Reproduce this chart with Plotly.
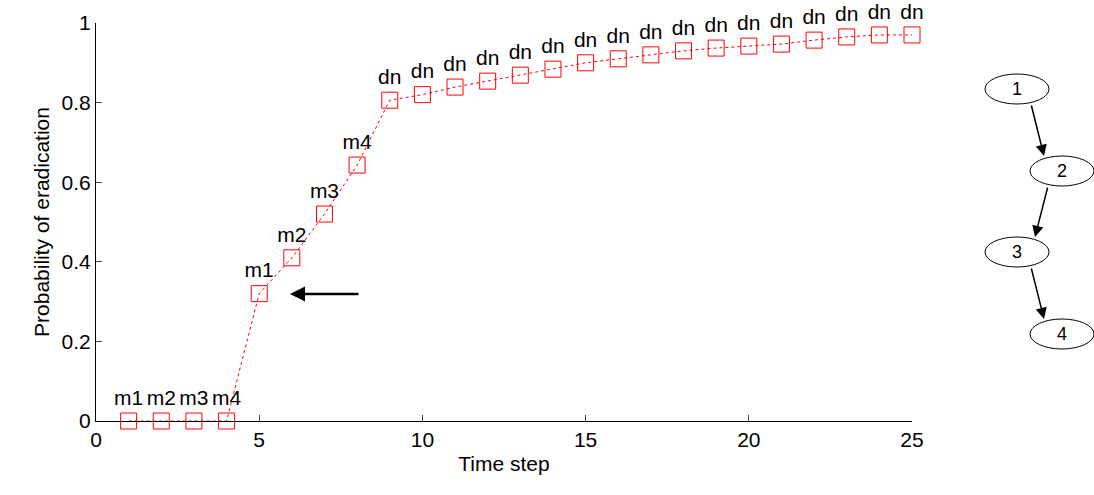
import plotly.graph_objects as go

x = list(range(1, 26))
y = [0, 0, 0, 0, 0.32, 0.41, 0.52, 0.643, 0.806, 0.82, 0.839, 0.854, 0.869, 0.884,
     0.9, 0.91, 0.92, 0.93, 0.937, 0.942, 0.947, 0.957, 0.965, 0.97, 0.97]
labels = ["m1", "m2", "m3", "m4", "m1", "m2", "m3", "m4"] + ["dn"] * 17
nodes = ["1", "2", "3", "4"]

W, H = 1094, 495
L, R, T, B = 96, 912, 23, 421
def px(xp): return (xp - L) / (R - L)
def py(yp): return (B - yp) / (B - T)

fig = go.Figure()
fig.add_trace(go.Scatter(x=x, y=y, mode="lines+markers+text", text=labels,
    textposition="top center", textfont=dict(size=21, color="black"),
    line=dict(color="red", width=1, dash="dot"),
    marker=dict(symbol="square-open", size=16, color="red", line=dict(width=1)),
    cliponaxis=False, showlegend=False))

shapes, ann = [], []
centers = [(1017, 89), (1062, 171), (1017, 252), (1062, 334)]
for (cx, cy), n in zip(centers, nodes):
    shapes.append(dict(type="circle", xref="paper", yref="paper",
        x0=px(cx - 32), x1=px(cx + 32), y0=py(cy + 15), y1=py(cy - 15),
        line=dict(color="black", width=1), fillcolor="white"))
    ann.append(dict(xref="paper", yref="paper", x=px(cx), y=py(cy), text=n,
        xanchor="center", yanchor="middle",
        showarrow=False, font=dict(size=18, color="black")))
for (x0, y0), (x1, y1) in zip(centers[:-1], centers[1:]):
    d = 1 if x1 > x0 else -1
    sx, sy = x0 + 14 * d, y0 + 15
    ex, ey = x1 - 18 * d, y1 - 15
    ann.append(dict(xref="paper", yref="paper", axref="pixel", ayref="pixel",
        x=px(ex), y=py(ey), ax=sx - ex, ay=sy - ey,
        text="", showarrow=True, arrowhead=2, arrowsize=1.5, arrowwidth=1.5, arrowcolor="black"))
ann.append(dict(xref="paper", yref="paper", axref="pixel", ayref="pixel",
    x=px(290), y=py(294), ax=70, ay=0, text="", showarrow=True,
    arrowhead=2, arrowsize=1.2, arrowwidth=2.5, arrowcolor="black"))

fig.update_layout(width=W, height=H,
    margin=dict(l=L, r=W - R, t=T, b=H - B, autoexpand=False),
    plot_bgcolor="white", paper_bgcolor="white",
    font=dict(family="Liberation Sans, Arial", size=21, color="black"),
    shapes=shapes, annotations=ann,
    xaxis=dict(range=[0, 25], tickvals=[0, 5, 10, 15, 20, 25], ticks="inside", ticklen=6,
        showgrid=False, zeroline=False, showline=True, linecolor="black",
        title=dict(text="Time step", font=dict(size=21), standoff=6)),
    yaxis=dict(range=[0, 1], tickvals=[0, 0.2, 0.4, 0.6, 0.8, 1], ticktext=["0", "0.2", "0.4", "0.6", "0.8", "1"],
        ticks="inside", ticklen=6, showgrid=False, zeroline=False, showline=True, linecolor="black",
        title=dict(text="Probability of eradication", font=dict(size=21), standoff=6)))
fig.write_html("out.html", config={"displayModeBar": False},
               post_script="document.body.style.margin='0';")
